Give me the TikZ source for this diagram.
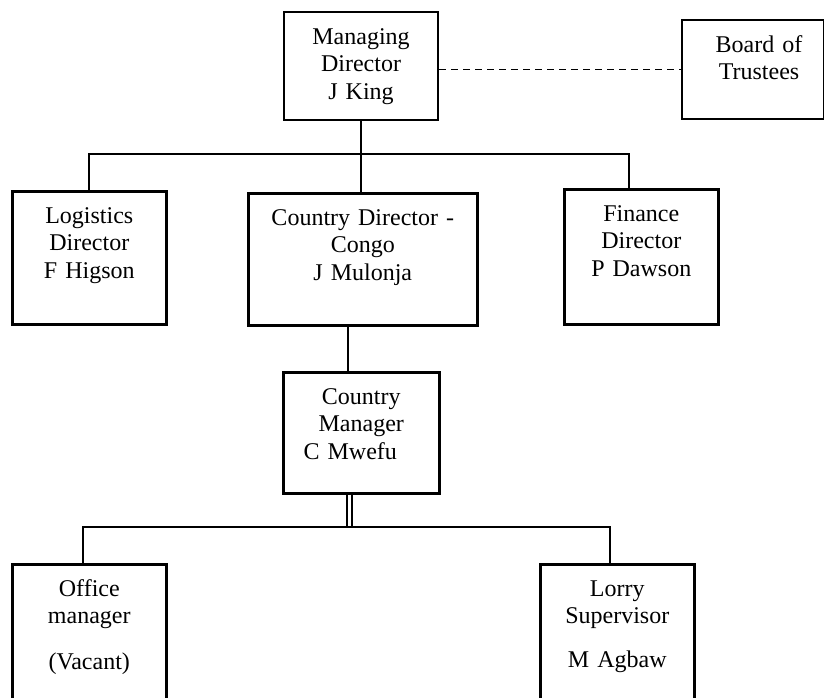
\documentclass[tikz,border=0pt]{standalone}
\usepackage{fontspec}
\setmainfont{Liberation Serif}
\usetikzlibrary{calc}

\newcommand{\postfont}{\fontsize{24}{27.5}\selectfont}
\tikzset{
  post/.style={draw, line width=2.6pt, inner sep=0pt, align=center, text height=32pt, anchor=north west, font=\postfont},
  toppost/.style={post, line width=2.1pt},
  link/.style={line width=1.9pt},
  dbl/.style={double, double distance=3pt, line width=1.6pt}
}

\begin{document}
\begin{tikzpicture}[x=1pt,y=-1pt]
\useasboundingbox (0,0) rectangle (824,698);
\clip (0,0) rectangle (824,698);

\node[toppost, text width=154pt, text depth=76pt] (md) at (283,11) {Managing\\Director\\J King};
\node[toppost, text width=142pt, text depth=67pt] (board) at (681,19) {\rule{12pt}{0pt}Board of\\\rule{12pt}{0pt}Trustees};

\node[post, text width=154pt, text depth=101pt] (log) at (11,190) {Logistics\\Director\\F Higson};
\node[post, text width=229pt, text depth=100pt] (cd) at (247,192) {Country Director -\\Congo\\J Mulonja};
\node[post, text width=154pt, text depth=103pt] (fin) at (563,188) {Finance\\Director\\P Dawson};

\node[post, text width=156pt, text depth=89pt] (cm) at (282,371) {Country\\Manager\\C Mwefu\rule{22pt}{0pt}};

\node[post, text width=154pt, text depth=120pt] (off) at (11,563) {Office\\manager\\[18pt](Vacant)};
\node[post, text width=154pt, text depth=120pt] (lor) at (539,563) {Lorry\\Supervisor\\[16pt]M Agbaw};

\coordinate (hub) at (360,154);
\coordinate (split) at (349.5,527);

\draw[link, dash pattern=on 7pt off 5pt] (board.west -| md.east) -- (board.west);
\draw[link] (md.south) -- (md.south |- cd.north);
\draw[link] (log.north) |- (hub) -| ([xshift=-12pt]fin.north);
\draw[link] ([xshift=-13pt]cm.north) -- ([xshift=-13pt]cm.north |- cd.south);
\draw[dbl] (split |- cm.south) -- (split);
\draw[link] ([xshift=-6pt]off.north) |- (split) -| ([xshift=-7pt]lor.north);
\end{tikzpicture}
\end{document}
